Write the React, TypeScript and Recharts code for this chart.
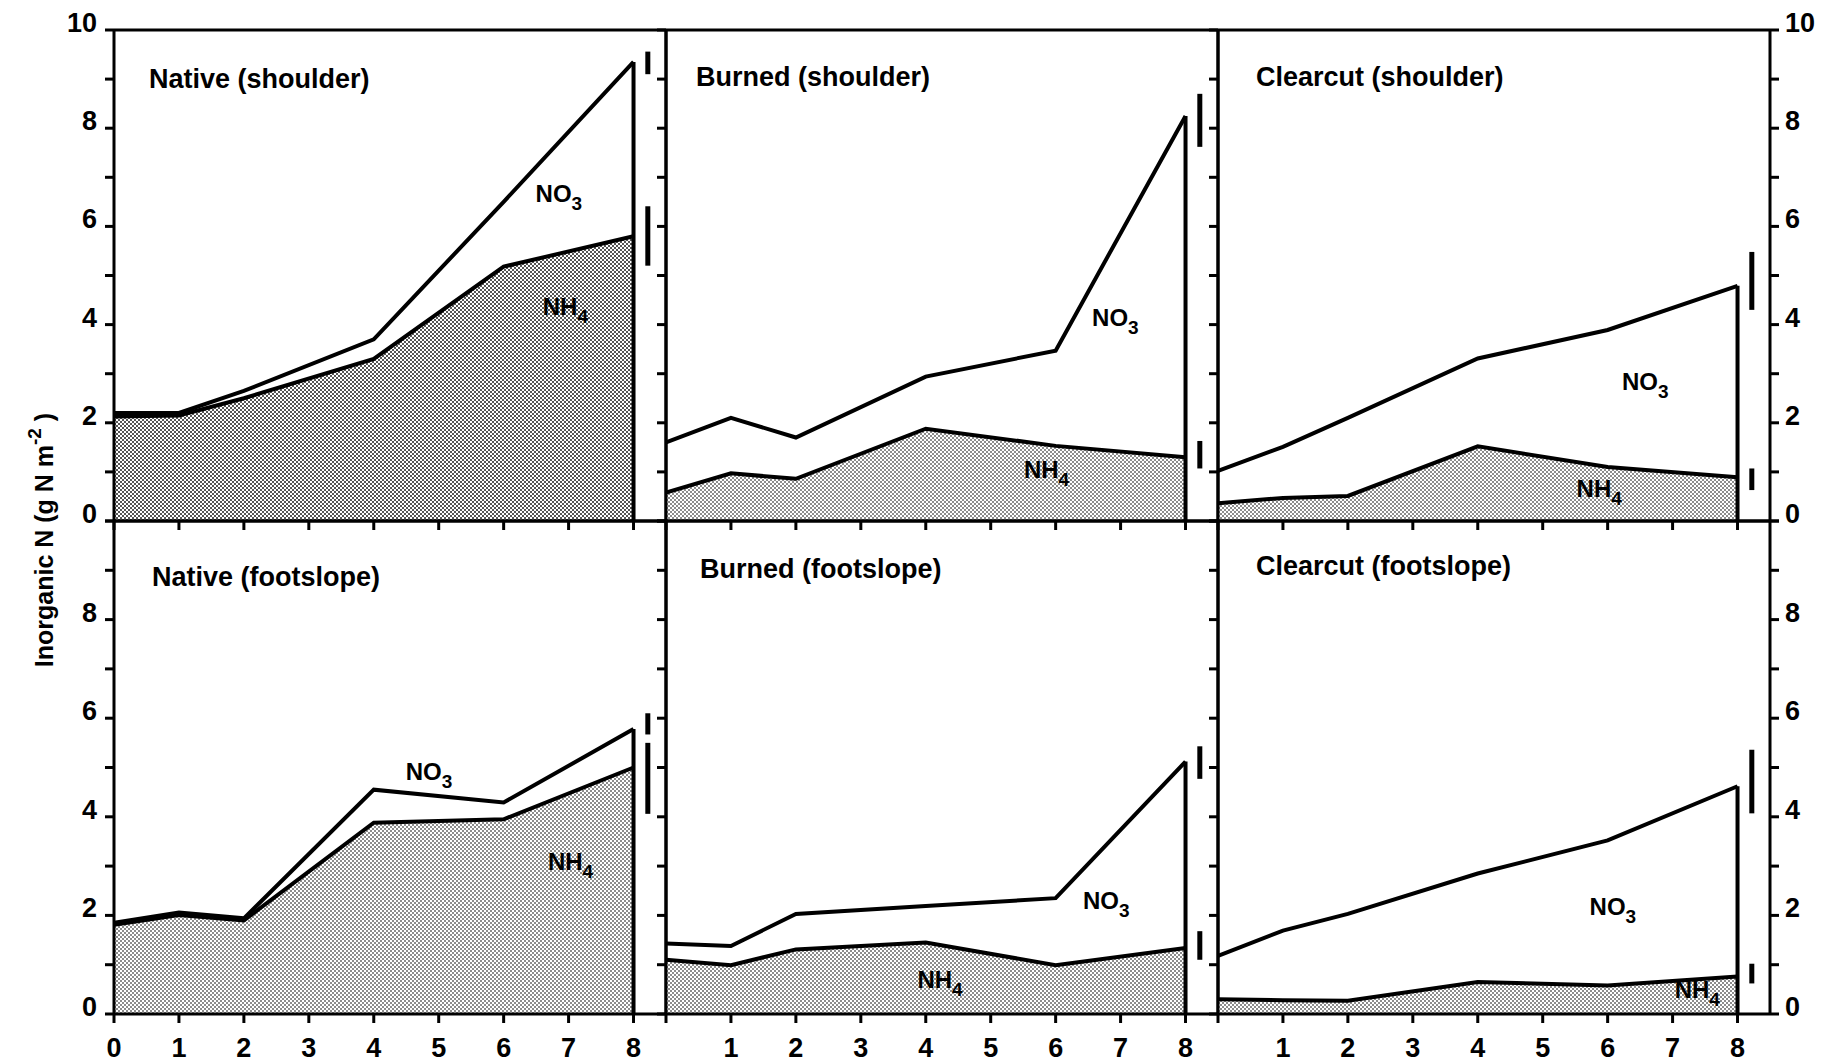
import React from 'react'
import {
  ComposedChart,
  Area,
  Line,
  XAxis,
  YAxis,
  ReferenceLine,
  ReferenceDot,
} from 'recharts'

// sampling days (x axis)
const days = [0, 1, 2, 4, 6, 8]

// NH4 and NH4+NO3 (total) in g N m-2
const nativeShoulderNH4 = [2.13, 2.15, 2.5, 3.3, 5.18, 5.8]
const nativeShoulderTotal = [2.2, 2.2, 2.65, 3.7, 6.5, 9.35]
const burnedShoulderNH4 = [0.58, 0.97, 0.86, 1.88, 1.53, 1.3]
const burnedShoulderTotal = [1.6, 2.1, 1.7, 2.94, 3.47, 8.25]
const clearcutShoulderNH4 = [0.36, 0.47, 0.51, 1.52, 1.1, 0.89]
const clearcutShoulderTotal = [1.02, 1.51, 2.1, 3.31, 3.89, 4.79]
const nativeFootNH4 = [1.81, 2.01, 1.9, 3.88, 3.95, 5.0]
const nativeFootTotal = [1.85, 2.06, 1.94, 4.55, 4.29, 5.78]
const burnedFootNH4 = [1.1, 0.99, 1.31, 1.45, 0.99, 1.34]
const burnedFootTotal = [1.43, 1.38, 2.03, 2.19, 2.35, 5.12]
const clearcutFootNH4 = [0.3, 0.28, 0.27, 0.65, 0.58, 0.76]
const clearcutFootTotal = [1.18, 1.69, 2.03, 2.85, 3.52, 4.62]

// LSD bars drawn right of day 8: [low, high]
const nativeShoulderBars = [[9.1, 9.56], [5.2, 6.41]]
const burnedShoulderBars = [[7.62, 8.7], [1.07, 1.63]]
const clearcutShoulderBars = [[4.3, 5.48], [0.63, 1.07]]
const nativeFootBars = [[5.67, 6.1], [4.06, 5.5]]
const burnedFootBars = [[4.77, 5.43], [1.1, 1.68]]
const clearcutFootBars = [[4.07, 5.36], [0.62, 1.02]]

const titles = [
  'Native (shoulder)', 'Burned (shoulder)', 'Clearcut (shoulder)',
  'Native (footslope)', 'Burned (footslope)', 'Clearcut (footslope)',
]

const yTicks = [0, 1, 2, 3, 4, 5, 6, 7, 8, 9, 10]
const xTicks = [0, 1, 2, 3, 4, 5, 6, 7, 8]
const BAR_X = 8.22

const font = '"Liberation Sans", Arial, Helvetica, sans-serif'

interface PanelDef {
  nh4: number[]
  total: number[]
  bars: number[][]
  no3At: [number, number]
  nh4At: [number, number]
  dark?: boolean
}

const panels: PanelDef[] = [
  { nh4: nativeShoulderNH4, total: nativeShoulderTotal, bars: nativeShoulderBars, no3At: [6.85, 6.6], nh4At: [6.95, 4.3], dark: true },
  { nh4: burnedShoulderNH4, total: burnedShoulderTotal, bars: burnedShoulderBars, no3At: [6.92, 4.08], nh4At: [5.86, 0.97] },
  { nh4: clearcutShoulderNH4, total: clearcutShoulderTotal, bars: clearcutShoulderBars, no3At: [6.58, 2.77], nh4At: [5.87, 0.6] },
  { nh4: nativeFootNH4, total: nativeFootTotal, bars: nativeFootBars, no3At: [4.85, 4.84], nh4At: [7.03, 3.02] },
  { nh4: burnedFootNH4, total: burnedFootTotal, bars: burnedFootBars, no3At: [6.78, 2.24], nh4At: [4.22, 0.62] },
  { nh4: clearcutFootNH4, total: clearcutFootTotal, bars: clearcutFootBars, no3At: [6.08, 2.11], nh4At: [7.38, 0.42] },
]

// layout
const COL_LEFT = [114, 666, 1218]
const ROW_TOP = [30, 521]
const PLOT_W = 552
const PLOT_H = [491, 493]
const AXIS_W = 70
const TOP_PAD = 25
const X_AXIS_H = 50
const titlePos = [
  [149, 79], [696, 77], [1256, 77],
  [152, 577], [700, 569], [1256, 566],
]

const ChemLabel = (props: any) => {
  const { cx, cy, base, sub } = props
  return (
    <text x={cx} y={cy + 5} textAnchor="middle" fontFamily={font} fontWeight={700} fontSize={24} fill="#000">
      <tspan>{base}</tspan>
      <tspan dy={8} fontSize={19}>{sub}</tspan>
    </text>
  )
}

function Panel({ idx }: { idx: number }) {
  const p = panels[idx]
  const row = idx < 3 ? 0 : 1
  const col = idx % 3
  const plotH = PLOT_H[row]
  const width = AXIS_W * 2 + PLOT_W
  const height = TOP_PAD + plotH + X_AXIS_H + 10
  const data = days.map((d, i) => ({ x: d, nh4: p.nh4[i], total: p.total[i] }))
  const lastTotal = p.total[p.total.length - 1]
  const showLeft = col === 0
  const showRight = col === 2
  const patId = `stip-${idx}`

  const yTick = (side: 'left' | 'right', show: boolean) => (props: any) => {
    const { x, y, payload } = props
    const v = payload.value
    if (!show || v % 2 !== 0 || (row === 1 && v === 10)) return <g />
    return (
      <text x={x} y={y - 7} textAnchor={side === 'left' ? 'end' : 'start'} dominantBaseline="central"
        fontFamily={font} fontWeight={700} fontSize={27} fill="#000">{v}</text>
    )
  }

  const xTick = (props: any) => {
    const { x, y, payload } = props
    const v = payload.value
    if (row === 0 || (col > 0 && v === 0)) return <g />
    return (
      <text x={x} y={y + 13} textAnchor="middle" dominantBaseline="central"
        fontFamily={font} fontWeight={700} fontSize={27} fill="#000">{v}</text>
    )
  }

  return (
    <div style={{ position: 'absolute', left: COL_LEFT[col] - AXIS_W, top: ROW_TOP[row] - TOP_PAD }}>
      <ComposedChart width={width} height={height} data={data}
        margin={{ top: TOP_PAD, right: 0, left: 0, bottom: 10 }}>
        <defs>
          <pattern id={patId} width="4" height="4" patternUnits="userSpaceOnUse">
            <rect width="4" height="4" fill="#fff" />
            <rect x="0" y="0" width="2" height="2" fill={p.dark ? '#555' : '#8c8c8c'} />
            <rect x="2" y="2" width="2" height="2" fill={p.dark ? '#555' : '#8c8c8c'} />
          </pattern>
        </defs>
        <XAxis dataKey="x" type="number" domain={[0, 8.5]} ticks={xTicks} allowDataOverflow
          height={X_AXIS_H} tickSize={9} tickMargin={12} interval={0}
          axisLine={{ stroke: '#000', strokeWidth: 3 }} tickLine={{ stroke: '#000', strokeWidth: 3 }}
          tick={xTick} />
        <YAxis yAxisId="l" orientation="left" domain={[0, 10]} ticks={yTicks} interval={0}
          width={AXIS_W} tickSize={9} tickMargin={8} allowDataOverflow
          axisLine={{ stroke: '#000', strokeWidth: 3 }} tickLine={{ stroke: '#000', strokeWidth: 3 }}
          tick={yTick('left', showLeft)} />
        <YAxis yAxisId="r" orientation="right" domain={[0, 10]} ticks={yTicks} interval={0}
          width={AXIS_W} tickSize={9} tickMargin={6} allowDataOverflow
          axisLine={{ stroke: '#000', strokeWidth: 3 }}
          tickLine={showRight ? { stroke: '#000', strokeWidth: 3 } : false}
          tick={showRight ? yTick('right', true) : false} />
        <ReferenceLine yAxisId="l" y={10} stroke="#000" strokeWidth={3} />
        <Area yAxisId="l" type="linear" dataKey="nh4" fill={`url(#${patId})`} fillOpacity={1}
          stroke="#000" strokeWidth={4} isAnimationActive={false} dot={false} activeDot={false} />
        <Line yAxisId="r" type="linear" dataKey="total" stroke="#000" strokeWidth={4}
          dot={false} activeDot={false} isAnimationActive={false} />
        <ReferenceLine yAxisId="l" segment={[{ x: 8, y: 0 }, { x: 8, y: lastTotal }]} stroke="#000" strokeWidth={4} />
        {p.bars.map((b, i) => (
          <ReferenceLine key={i} yAxisId="l" segment={[{ x: BAR_X, y: b[0] }, { x: BAR_X, y: b[1] }]}
            stroke="#000" strokeWidth={5} />
        ))}
        <ReferenceDot yAxisId="l" x={p.no3At[0]} y={p.no3At[1]} r={0}
          shape={(s: any) => <ChemLabel cx={s.cx} cy={s.cy} base="NO" sub="3" />} />
        <ReferenceDot yAxisId="l" x={p.nh4At[0]} y={p.nh4At[1]} r={0}
          shape={(s: any) => <ChemLabel cx={s.cx} cy={s.cy} base="NH" sub="4" />} />
      </ComposedChart>
    </div>
  )
}

export default function App() {
  return (
    <div style={{ position: 'absolute', left: 0, top: 0, width: 1829, height: 1064, background: '#fff', overflow: 'hidden' }}>
      {panels.map((_, i) => <Panel key={i} idx={i} />)}
      <svg width={1829} height={1064} style={{ position: 'absolute', left: 0, top: 0, pointerEvents: 'none' }}>
        {titles.map((t, i) => (
          <text key={t} x={titlePos[i][0]} y={titlePos[i][1]} dominantBaseline="central"
            fontFamily={font} fontWeight={700} fontSize={27} fill="#000">{t}</text>
        ))}
        <text transform="translate(44 540) rotate(-90)" textAnchor="middle" dominantBaseline="central"
          fontFamily={font} fontWeight={700} fontSize={25} fill="#000">
          <tspan>Inorganic N (g N m</tspan>
          <tspan dy={-10} fontSize={19}>-2</tspan>
          <tspan dy={10}> )</tspan>
        </text>
      </svg>
    </div>
  )
}
